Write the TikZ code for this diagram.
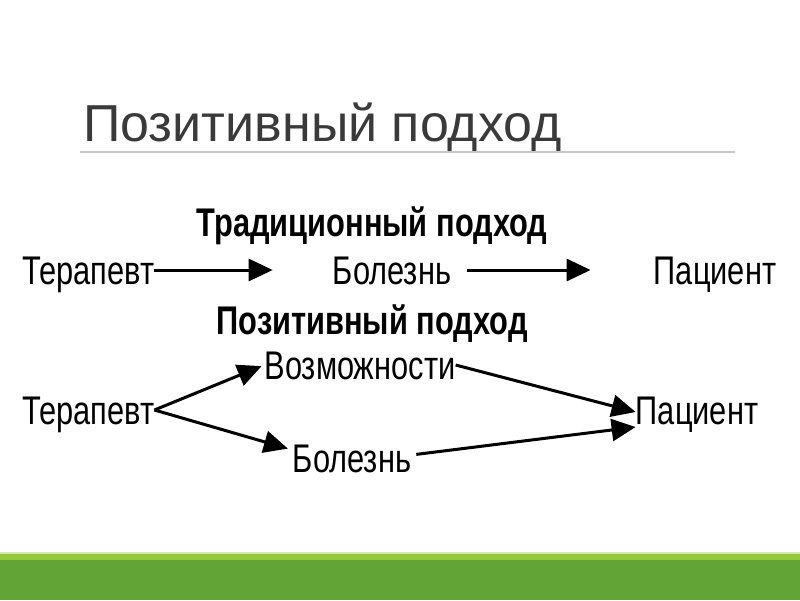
\documentclass[tikz,border=0pt]{standalone}
\usepackage{fontspec}
\setmainfont{Liberation Sans}
\newfontfamily\diag[FakeStretch=0.77]{Liberation Sans}
\usetikzlibrary{arrows.meta,positioning}
\definecolor{titlegray}{HTML}{3A3A3A}
\definecolor{rulegray}{HTML}{C8C8C8}
\definecolor{barlight}{HTML}{93C83C}
\definecolor{bardark}{HTML}{62A436}

\begin{document}
\begin{tikzpicture}[x=1pt, y=-1pt,
  lbl/.style={font=\diag\fontsize{40}{40}\selectfont, inner sep=0pt,
    text height=29pt, text depth=0pt},
  head/.style={lbl, font=\diag\bfseries\fontsize{40}{40}\selectfont},
  arr/.style={-{Triangle[length=24pt,width=22pt]}, line width=3pt}]
  \useasboundingbox[fill=white] (0,0) rectangle (800,600);
  \fill[barlight!40] (0,552) rectangle (800,554);
  \fill[barlight] (0,554) rectangle (800,560);
  \fill[bardark] (0,560) rectangle (800,600);
  \node[anchor=base west, inner sep=0pt, text=titlegray,
    font=\fontsize{52}{52}\selectfont] (title) at (83,141) {Позитивный подход};
  \draw[rulegray, line width=1.5pt] (80,152) -- (735,152);
  \node[head] (htrad) at (372,222) {Традиционный подход};
  \node[lbl, anchor=west] (ter1) at (22,270) {Терапевт};
  \node[lbl] (bol1) at (392,270) {Болезнь};
  \node[lbl] (pac1) at (715,270) {Пациент};
  \node[head] (hpos) at (372,320) {Позитивный подход};
  \node[lbl, anchor=west] (ter2) at (22,410) {Терапевт};
  \node[lbl] (voz2) at (360,365) {Возможности};
  \node[lbl] (bol2) at (352,458) {Болезнь};
  \node[lbl] (pac2) at (697,410) {Пациент};
  \path[arr]
    (ter1) edge [shorten >=60pt] (bol1)
    (bol1) edge [shorten <=16pt, shorten >=63pt] (pac1)
    (ter2.east) edge [shorten >=3pt] (voz2.west)
         edge [shorten >=5pt] ([yshift=8pt]bol2.west)
    (voz2.east) edge ([yshift=-2pt]pac2.west)
    ([yshift=3pt]bol2.east) edge [shorten <=5pt] ([yshift=-17pt]pac2.west);
\end{tikzpicture}
\end{document}
